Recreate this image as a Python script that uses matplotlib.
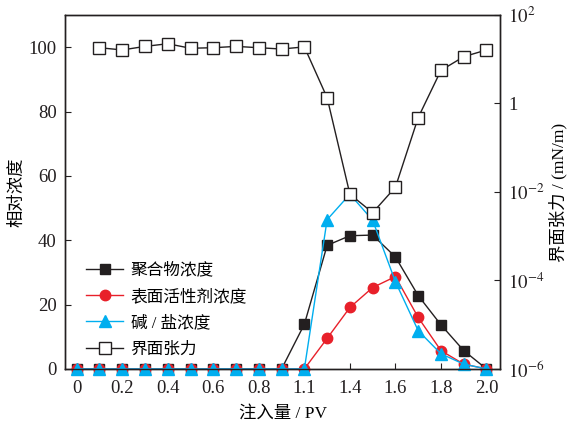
import numpy as np
import matplotlib
matplotlib.use('Agg')
import matplotlib.pyplot as plt
from matplotlib.ticker import FixedLocator, NullLocator

plt.rcParams['font.family'] = ['Liberation Serif', 'Noto Sans CJK SC']
plt.rcParams['mathtext.fontset'] = 'stix'

# sample points along injection (evenly spaced on the plot)
n_points = 19
tick_idx = [0, 2, 4, 6, 8, 10, 12, 14, 16, 18]
tick_labels = ['0', '0.2', '0.4', '0.6', '0.8', '1.1', '1.4', '1.6', '1.8', '2.0']

polymer = [0, 0, 0, 0, 0, 0, 0, 0, 0, 0, 13.9, 38.4, 41.4, 41.6, 34.8, 22.8, 13.7, 5.7, 0]
surfactant = [0, 0, 0, 0, 0, 0, 0, 0, 0, 0, 0, 9.5, 19.1, 25.3, 28.7, 16.0, 5.7, 1.5, 0]
alkali = [0, 0, 0, 0, 0, 0, 0, 0, 0, 0, 0, 46.4, 54.3, 46.2, 27.1, 11.9, 4.7, 1.5, 0]

# interfacial tension starts at the second sample
ift_idx = list(range(1, 19))
ift = [18.2, 16.2, 19.5, 22.4, 17.7, 18.2, 19.5, 18.2, 17.0, 19.0,
       1.35, 0.0089, 0.0034, 0.0128, 0.48, 5.6, 11.4, 16.2]

x = np.arange(n_points)

fig = plt.figure(figsize=(5.69, 4.28), dpi=100)
ax = fig.add_axes([0.114, 0.138, 0.765, 0.827])
ax2 = ax.twinx()

ax.plot(x, polymer, color='#231f20', marker='s', markersize=7, linewidth=1,
        label='聚合物浓度', clip_on=False, zorder=3)
ax.plot(x, surfactant, color='#e8202a', marker='o', markersize=7.5, linewidth=1,
        label='表面活性剂浓度', clip_on=False, zorder=4)
ax.plot(x, alkali, color='#00aeef', marker='^', markersize=8, linewidth=1,
        label='碱 / 盐浓度', clip_on=False, zorder=5)
ift_line, = ax2.plot(ift_idx, ift, color='#231f20', marker='s', markersize=8.5,
                     markerfacecolor='white', markeredgewidth=1, linewidth=1,
                     label='界面张力')

ax.set_xlim(-0.52, 18.6)
ax.set_ylim(0, 110)
ax.set_yticks([0, 20, 40, 60, 80, 100])
ax.set_xticks(tick_idx)
ax.set_xticklabels(tick_labels)

ax2.set_yscale('log')
ax2.set_ylim(1e-6, 1e2)
ax2.yaxis.set_major_locator(FixedLocator([1e-6, 1e-4, 1e-2, 1, 1e2]))
ax2.yaxis.set_minor_locator(NullLocator())
ax2.set_yticklabels([r'$10^{-6}$', r'$10^{-4}$', r'$10^{-2}$', '1', r'$10^{2}$'])

for a in (ax, ax2):
    a.tick_params(direction='in', length=4, width=0.8, labelsize=13.5,
                  colors='#231f20', pad=6)
    for s in a.spines.values():
        s.set_linewidth(1)
        s.set_color('#231f20')
ax.tick_params(axis='x', pad=8)

ax.set_xlabel('注入量 / PV', fontsize=12.5, labelpad=6)
ax.set_ylabel('相对浓度', fontsize=12.5)
ax.yaxis.set_label_coords(-0.09, 0.5)
ax2.set_ylabel('界面张力 / (mN/m)', fontsize=12.5, rotation=90, labelpad=3)

handles, labels = ax.get_legend_handles_labels()
handles.append(ift_line)
labels.append('界面张力')
ax.legend(handles, labels, loc='lower left', bbox_to_anchor=(0.015, -0.01),
          frameon=False, fontsize=12, handlelength=2.2, labelspacing=0.62,
          handletextpad=0.45)

fig.savefig('out.png', dpi=100)
